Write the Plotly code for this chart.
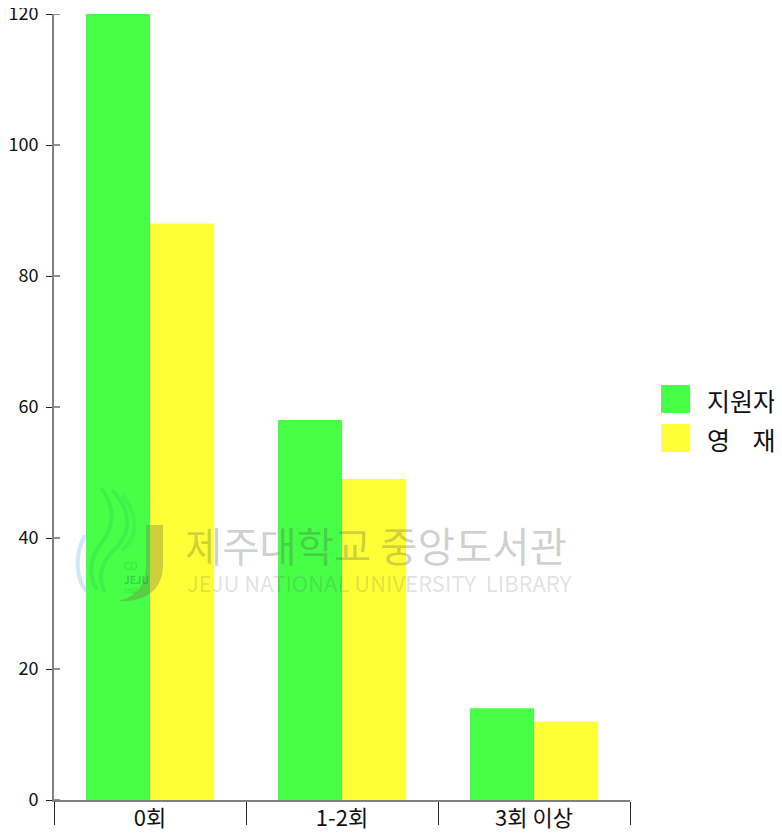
import plotly.graph_objects as go

categories = ["0회", "1-2회", "3회 이상"]
applicants = [120, 58, 14]
gifted = [88, 49, 12]
y_ticks = [0, 20, 40, 60, 80, 100, 120]
series_names = ["지원자", "영\u00a0\u00a0\u00a0\u00a0재"]
GREEN = "#48FF48"
YELLOW = "#FFFF38"
# the page body adds an 8px offset to the figure; all pixel values below are window pixels
OFF = 8
W, H = 782 - OFF, 836 - OFF
PLOT_L, PLOT_R, PLOT_T, PLOT_B = 54, 630, 14, 800
L, R, T, B = PLOT_L - OFF, 782 - PLOT_R, PLOT_T - OFF, 836 - PLOT_B
FONT = "Noto Sans CJK KR"

def px(x):
    return (x - PLOT_L) / (PLOT_R - PLOT_L)

def py(y):
    return 1 - (y - PLOT_T) / (PLOT_B - PLOT_T)

def path(cmds):
    out = []
    for c in cmds:
        if c[0] == "Z":
            out.append("Z")
        else:
            pts = " ".join(f"{px(c[i]):.5f},{py(c[i + 1]):.5f}" for i in range(1, len(c), 2))
            out.append(c[0] + " " + pts)
    return " ".join(out)

fig = go.Figure()
fig.add_bar(x=categories, y=applicants, name=series_names[0], marker=dict(color=GREEN, line_width=0))
fig.add_bar(x=categories, y=gifted, name=series_names[1], marker=dict(color=YELLOW, line_width=0))

shapes = []
for v in y_ticks:
    shapes.append(dict(type="line", xref="paper", yref="y", x0=0, x1=px(60), y0=v, y1=v,
                       line=dict(color="#222222", width=1), layer="above"))

# legend swatches
for (top, color) in ((385, GREEN), (424, YELLOW)):
    shapes.append(dict(type="rect", xref="paper", yref="paper", x0=px(661), x1=px(690), y0=py(top), y1=py(top + 28),
                       fillcolor=color, line_width=0))

# watermark logo
shapes += [
    dict(type="path", xref="paper", yref="paper", layer="above", line_width=0,
         fillcolor="rgba(120,120,60,0.36)",
         path=path([("M", 146, 525), ("L", 163, 525), ("L", 163, 565), ("C", 163, 590, 145, 603, 118, 601),
                    ("C", 133, 598, 146, 588, 146, 565), ("Z",)])),
    dict(type="path", xref="paper", yref="paper", layer="above",
         line=dict(color="rgba(0,170,90,0.16)", width=4),
         path=path([("M", 101, 488), ("C", 118, 510, 112, 530, 100, 545), ("C", 90, 558, 88, 575, 97, 590)])),
    dict(type="path", xref="paper", yref="paper", layer="above",
         line=dict(color="rgba(0,170,90,0.16)", width=4),
         path=path([("M", 112, 490), ("C", 135, 515, 130, 535, 112, 552), ("C", 100, 565, 98, 580, 105, 592)])),
    dict(type="path", xref="paper", yref="paper", layer="above",
         line=dict(color="rgba(0,170,90,0.12)", width=4),
         path=path([("M", 122, 495), ("C", 142, 520, 135, 540, 122, 550)])),
    dict(type="path", xref="paper", yref="paper", layer="below",
         line=dict(color="rgba(130,200,240,0.4)", width=4),
         path=path([("M", 85, 535), ("C", 74, 555, 76, 580, 87, 592)])),
]

annotations = [
    dict(text=series_names[0], x=px(705), y=py(400), xanchor="left", font=dict(size=25, color="#111111", family=FONT)),
    dict(text=series_names[1], x=px(705), y=py(439), xanchor="left", font=dict(size=25, color="#111111", family=FONT)),
    dict(text="제주대학교 중앙도서관", x=px(376), y=py(544), xanchor="center",
         font=dict(size=40.5, color="rgba(70,70,70,0.26)", family=FONT)),
    dict(text="JEJU NATIONAL UNIVERSITY  LIBRARY", x=px(379), y=py(582), xanchor="center",
         font=dict(size=22, color="rgba(70,70,70,0.17)", family=FONT)),
    dict(text="CO", x=px(122), y=py(565), font=dict(size=10, color="rgba(0,120,60,0.25)", family=FONT)),
    dict(text="<b>JEJU</b>", x=px(122), y=py(579), font=dict(size=10, color="rgba(0,120,60,0.35)", family=FONT)),
    dict(text="1952", x=px(122), y=py(590), font=dict(size=6, color="rgba(0,120,60,0.3)", family=FONT)),
]
for a in annotations:
    a.update(xref="paper", yref="paper", showarrow=False, yanchor="middle")

fig.update_layout(
    width=W, height=H, autosize=False, showlegend=False,
    margin=dict(l=L, r=R, t=T, b=B, pad=0),
    paper_bgcolor="white", plot_bgcolor="white",
    barmode="group", bargap=1 / 3, bargroupgap=0,
    font=dict(family=FONT, color="#111111", size=20),
    shapes=shapes, annotations=annotations,
)
fig.update_xaxes(
    type="category", tickson="boundaries", ticks="outside", ticklen=23, tickwidth=1, tickcolor="#222222",
    showline=True, linecolor="#808080", linewidth=1.5, showgrid=False, zeroline=False, automargin=False,
    tickfont=dict(size=22, family=FONT, color="#111111"), ticklabelstandoff=-2, range=[-0.5, 2.5],
    ticklabeloverflow="allow",
)
fig.update_yaxes(
    range=[0, 120], tickvals=y_ticks, ticks="outside", ticklen=6, tickwidth=1, tickcolor="#222222",
    showline=True, linecolor="#808080", linewidth=2, showgrid=False, zeroline=False, automargin=False,
    tickfont=dict(size=18, family=FONT, color="#111111"), ticklabelstandoff=4,
    ticklabeloverflow="allow",
)
fig.write_html("out.html")
